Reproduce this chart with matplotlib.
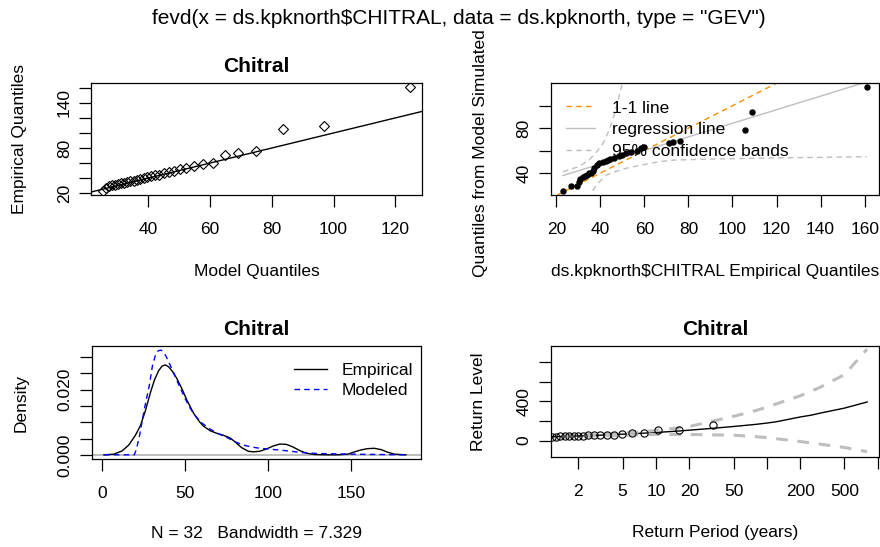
import matplotlib
matplotlib.use("Agg")
import matplotlib.pyplot as plt

plt.rcParams['font.family'] = ['Liberation Sans', 'DejaVu Sans']

# ---------------- data ----------------
emp_sorted = [23.0, 26.8, 29.5, 30.2, 31.0, 32.0, 33.0, 34.0, 35.0, 35.8, 36.5, 37.3,
              38.5, 39.6, 41.0, 42.5, 43.5, 44.5, 46.3, 48.6, 50.0, 51.6, 54.0, 56.6,
              58.7, 60.0, 71.0, 73.0, 76.4, 105.5, 108.8, 161.0]
model_q = [25.4, 26.3, 27.2, 28.2, 29.2, 30.2, 31.2, 32.2, 33.2, 34.2, 35.2, 36.3,
           37.4, 38.5, 39.7, 40.9, 42.2, 43.6, 45.0, 46.6, 48.3, 50.2, 52.3, 54.8,
           57.8, 61.0, 64.8, 69.0, 75.0, 83.5, 97.0, 124.7]
sim_q = [24.2, 28.4, 28.4, 32.2, 34.5, 36.5, 37.3, 38.2, 39.7, 40.5, 42.1, 44.2,
         47.1, 48.6, 50.1, 51.0, 51.6, 52.2, 53.1, 55.2, 56.1, 57.6, 58.5, 59.9,
         62.0, 63.0, 66.5, 67.5, 68.8, 78.4, 94.7, 116.5]
reg_x = [23.0, 161.0]
reg_y = [37.8, 121.2]
ci_up_x = [23.0, 30.5, 35.0, 38.0, 41.1, 44.0, 46.3, 48.0, 50.0, 51.5]
ci_up_y = [41.2, 46.0, 52.0, 58.0, 66.0, 78.0, 92.0, 104.0, 120.0, 132.0]
ci_lo_x = [36.5, 39.0, 42.6, 47.0, 51.6, 58.0, 66.6, 73.4, 90.0, 118.6, 161.0]
ci_lo_y = [24.5, 31.0, 38.2, 41.5, 44.2, 47.0, 50.1, 51.6, 52.5, 53.5, 54.6]

dens_emp_x = [1, 7, 12, 16, 20, 23, 26, 29, 31.5, 34, 36, 38, 40, 42, 45, 48, 51, 55, 59,
              61, 65, 69, 73, 77, 80, 84, 88, 91, 95, 99, 103, 107, 111, 115, 119, 123,
              128, 135, 142, 148, 152, 156, 160, 164, 168, 172, 176, 183]
dens_emp_y = [0.0, 0.0002, 0.0012, 0.0030, 0.0060, 0.0089, 0.0135, 0.0190, 0.0230, 0.0258,
              0.0272, 0.0276, 0.0270, 0.0258, 0.0234, 0.0203, 0.0168, 0.0128, 0.0099,
              0.0088, 0.0074, 0.0066, 0.0060, 0.0052, 0.0040, 0.0022, 0.0011, 0.0009,
              0.0011, 0.0018, 0.0027, 0.0033, 0.0032, 0.0024, 0.0013, 0.0005,
              0.0001, 0.0, 0.0, 0.0002, 0.0009, 0.0015, 0.0019, 0.0020, 0.0016, 0.0008,
              0.0002, 0.0]
dens_mod_x = [1.2, 10, 19.3, 20.5, 22.3, 25.3, 28.3, 30.3, 32.3, 34, 35.5, 37, 38.5, 40.5,
              42.5, 45, 47.5, 50, 53, 56, 60, 64, 68, 72, 76, 80, 85, 90, 95, 100, 110,
              120, 130, 140, 150, 166, 184.6]
dens_mod_y = [0.0, 0.0, 0.0, 0.0015, 0.0054, 0.0138, 0.0211, 0.0274, 0.0310, 0.0320, 0.0321,
              0.0314, 0.0302, 0.0280, 0.0258, 0.0228, 0.0200, 0.0172, 0.0143, 0.0120,
              0.0098, 0.0082, 0.0070, 0.0060, 0.0051, 0.0040, 0.0030, 0.0024, 0.0020,
              0.0018, 0.0013, 0.0007, 0.0004, 0.0003, 0.0002, 0.0001, 0.0]

rp_points = [0.286, 0.357, 0.417, 0.474, 0.530, 0.587, 0.645, 0.706, 0.770, 0.838, 0.910,
             0.989, 1.073, 1.166, 1.268, 1.381, 1.508, 1.650, 1.811, 1.997, 2.212, 2.466,
             2.770, 3.140, 3.602, 4.195, 4.983, 6.086, 7.740, 10.49, 15.99, 32.50]
rl_x = [1.0, 1.5, 2.0, 3.14, 4.98, 7.74, 10.49, 16.0, 32.5, 50, 80, 100, 120, 200, 250,
        300, 500, 800]
rl_y = [36, 42, 46.6, 54.8, 64.8, 75, 83.5, 97, 124.7, 143, 165, 178, 190, 240, 258,
        278, 330, 392]
rl_ci_x = [1.44, 4.48, 9.49, 19.5, 49.5, 79.5, 99.5, 119.5, 199.5, 249.5, 299.5, 499.5, 799.5]
rl_ci_up = [50, 72, 100, 140, 245, 305, 340, 370, 455, 500, 540, 670, 930]
rl_ci_lo = [38, 52, 62, 62, 55, 40, 30, 20, -10, -24, -36, -70, -113]

W, H = 880, 547
FS = 12.5
TFS = 15
GRAY = '#BEBEBE'


def rect(l, t, r, b):
    return [l / W, 1 - b / H, (r - l) / W, (b - t) / H]


def pad_limits(vals, frac=0.04):
    lo, hi = min(vals), max(vals)
    r = hi - lo
    return lo - frac * r, hi + frac * r


def style(ax, xpad=10.8, ypad=5.3):
    for s in ax.spines.values():
        s.set_linewidth(0.9)
        s.set_color('black')
    ax.tick_params(axis='both', length=8.4, width=0.9, labelsize=FS, direction='out')
    ax.tick_params(axis='x', pad=xpad)
    ax.tick_params(axis='y', pad=ypad, labelrotation=90)
    ax.minorticks_off()


def fix_ylabels(ax):
    for lab in ax.get_yticklabels():
        lab.set_va('center')
        lab.set_ha('right')


fig = plt.figure(figsize=(W / 100, H / 100), dpi=100)

# ---------------- panel 1 : QQ ----------------
ax1 = fig.add_axes(rect(91, 83, 422, 195))
ax1.plot(model_q, emp_sorted, linestyle='none', marker='D', markersize=4.6,
         markerfacecolor='none', markeredgecolor='black', markeredgewidth=0.8)
ax1.axline((20, 20), slope=1, color='black', lw=1.0)
ax1.set_xlim(*pad_limits(model_q))
ax1.set_ylim(*pad_limits(emp_sorted))
style(ax1)
ax1.set_xticks([40, 60, 80, 100, 120])
ax1.set_yticks([20, 40, 60, 80, 100, 120, 140, 160],
               ['20', '', '', '80', '', '', '140', ''])
fix_ylabels(ax1)
ax1.set_title('Chitral', fontsize=TFS, fontweight='bold', pad=8)
ax1.set_xlabel('Model Quantiles', fontsize=FS, va='center')
ax1.xaxis.set_label_coords(0.5, -0.685)
ax1.set_ylabel('Empirical Quantiles', fontsize=FS, va='center')
ax1.yaxis.set_label_coords(-0.216, 0.5)

# ---------------- panel 2 : simulated QQ ----------------
ax2 = fig.add_axes(rect(550.7, 83, 879, 195))
ax2.axline((20, 20), slope=1, color='darkorange', lw=1.0, linestyle=(0, (4, 3)),
           label='1-1 line')
ax2.plot(reg_x, reg_y, color=GRAY, lw=1.0, label='regression line')
ax2.plot(ci_up_x, ci_up_y, color=GRAY, lw=1.0, linestyle=(0, (4, 3)),
         label='95% confidence bands')
ax2.plot(ci_lo_x, ci_lo_y, color=GRAY, lw=1.0, linestyle=(0, (4, 3)))
ax2.plot(emp_sorted, sim_q, linestyle='none', marker='o', markersize=3.6,
         color='black')
ax2.set_xlim(*pad_limits(emp_sorted))
ax2.set_ylim(*pad_limits(sim_q))
style(ax2)
ax2.set_xticks([20, 40, 60, 80, 100, 120, 140, 160])
ax2.set_yticks([40, 60, 80, 100], ['40', '', '80', ''])
fix_ylabels(ax2)
ax2.set_xlabel('ds.kpknorth$CHITRAL Empirical Quantiles', fontsize=FS, va='center',
               parse_math=False)
ax2.xaxis.set_label_coords(0.5, -0.685)
ax2.set_ylabel('Quantiles from Model Simulated', fontsize=FS, va='center')
ax2.yaxis.set_label_coords(-0.2153, 0.37)
ax2.legend(loc='upper left', bbox_to_anchor=(0.0466, 0.845), frameon=False,
           fontsize=FS, borderpad=0, borderaxespad=0, handlelength=1.67,
           handletextpad=1.0, labelspacing=0.38)

# ---------------- panel 3 : density ----------------
ax3 = fig.add_axes(rect(91.7, 346, 420.7, 459))
ax3.axhline(0, color=GRAY, lw=1.5)
ax3.plot(dens_emp_x, dens_emp_y, color='black', lw=1.0, label='Empirical')
ax3.plot(dens_mod_x, dens_mod_y, color='blue', lw=1.0, linestyle=(0, (4, 3)),
         label='Modeled')
ax3.set_xlim(*pad_limits(dens_emp_x + dens_mod_x))
ax3.set_ylim(*pad_limits(dens_emp_y + dens_mod_y))
style(ax3)
ax3.set_xticks([0, 50, 100, 150])
ax3.set_yticks([0, 0.005, 0.010, 0.015, 0.020, 0.025, 0.030],
               ['0.000', '', '', '', '0.020', '', ''])
fix_ylabels(ax3)
ax3.set_title('Chitral', fontsize=TFS, fontweight='bold', pad=8)
ax3.set_xlabel('N = 32   Bandwidth = 7.329', fontsize=FS, va='center')
ax3.xaxis.set_label_coords(0.5, -0.659)
ax3.set_ylabel('Density', fontsize=FS, va='center')
ax3.yaxis.set_label_coords(-0.215, 0.5)
ax3.legend(loc='upper left', bbox_to_anchor=(0.615, 0.85), frameon=False,
           fontsize=FS, borderpad=0, borderaxespad=0, handlelength=1.88,
           handletextpad=0.86, labelspacing=0.28)

# ---------------- panel 4 : return level ----------------
ax4 = fig.add_axes(rect(550.7, 346, 879, 457.3))
ax4.set_xscale('log')
ax4.plot(rl_x, rl_y, color='black', lw=1.0)
ax4.plot(rl_ci_x, rl_ci_up, color=GRAY, lw=2.2, linestyle=(0, (3.8, 3.2)))
ax4.plot(rl_ci_x, rl_ci_lo, color=GRAY, lw=2.2, linestyle=(0, (3.8, 3.2)))
ax4.plot(rp_points, emp_sorted, linestyle='none', marker='o', markersize=5.2,
         markerfacecolor='none', markeredgecolor='black', markeredgewidth=0.8)
ax4.set_xlim(1.127, 1023)
ax4.set_ylim(-170, 961)
style(ax4)
ax4.set_xticks([2, 5, 10, 20, 50, 100, 200, 500, 1000],
               ['2', '5', '10', '20', '50', '', '200', '500', ''])
ax4.minorticks_off()
ax4.set_yticks([0, 200, 400, 600, 800], ['0', '', '400', '', ''])
fix_ylabels(ax4)
ax4.set_title('Chitral', fontsize=TFS, fontweight='bold', pad=8)
ax4.set_xlabel('Return Period (years)', fontsize=FS, va='center')
ax4.xaxis.set_label_coords(0.5, -0.68)
ax4.set_ylabel('Return Level', fontsize=FS, va='center')
ax4.yaxis.set_label_coords(-0.2205, 0.5)

fig.text(459 / W, 1 - 19 / H,
         'fevd(x = ds.kpknorth$CHITRAL, data = ds.kpknorth, type = "GEV")',
         ha='center', va='center', fontsize=TFS, parse_math=False)

fig.savefig('out.png', dpi=100, facecolor='white')
